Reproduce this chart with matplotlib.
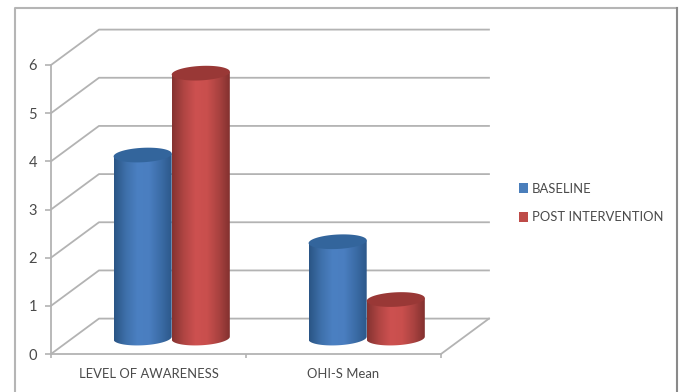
import matplotlib
matplotlib.use("Agg")
import matplotlib.pyplot as plt
import numpy as np
from matplotlib.colors import LinearSegmentedColormap
from matplotlib.lines import Line2D
from matplotlib.patches import Patch, Polygon

categories = ["LEVEL OF AWARENESS", "OHI-S Mean"]
baseline = [3.8, 2.0]
post_intervention = [5.5, 0.8]
series_names = ["BASELINE", "POST INTERVENTION"]
y_ticks = [0, 1, 2, 3, 4, 5, 6]

plt.rcParams["font.family"] = ["Lato", "DejaVu Sans"]

GRID = "#b3b3b3"
TEXT = "#4a4a4a"

# depth of the fake 3D box, in data units
DEPTH_X = 0.246
DEPTH_Y = 0.735
BAR_W = 0.298
CAP_H = 0.15
CAP_TILT = 0.2

blue_cmap = LinearSegmentedColormap.from_list(
    "blue", ["#2a5585", "#3e70aa", "#4b80c2", "#4a7ec0", "#3b6ca6", "#2b5688"])
red_cmap = LinearSegmentedColormap.from_list(
    "red", ["#853331", "#b04543", "#cd5150", "#c94f4d", "#a94240", "#7f2f2d"])

fig = plt.figure(figsize=(6.8, 3.92), dpi=100)
ax = fig.add_axes([51 / 680, 38 / 392, 390 / 680, 289 / 392])
ax.patch.set_alpha(0)

# outer chart border
for xs, ys, c in [([15, 15, 677], [392, 8, 8], "#b5b5b5"), ([677, 677], [8, 392], "#8a8a8a")]:
    fig.add_artist(Line2D(np.array(xs) / 680, 1 - np.array(ys) / 392, color=c, lw=1.5))

x_min, x_max = -0.5, 1.5

# side wall and back wall lines
for v in y_ticks:
    ax.plot([x_min, x_min + DEPTH_X, x_max + DEPTH_X], [v, v + DEPTH_Y, v + DEPTH_Y],
            color=GRID, lw=1.3, clip_on=False, zorder=1)
ax.plot([x_max, x_max + DEPTH_X], [0, DEPTH_Y], color=GRID, lw=1.3, clip_on=False, zorder=1)


def draw_cylinder(xc, value, cmap, cap_color, z):
    t = np.linspace(0, np.pi, 60)
    half = BAR_W / 2
    base_y = DEPTH_Y * 0.45
    top_y = base_y + value
    ex = half * np.cos(t)
    # lower half of the base ellipse, left to right
    low_x = xc - ex
    low_y = base_y - CAP_H * np.sin(t) + CAP_TILT * (low_x - xc)
    body = np.vstack([
        np.column_stack([low_x, low_y]),
        [[xc + half, top_y + CAP_TILT * half]],
        [[xc - half, top_y - CAP_TILT * half]],
    ])
    clip = Polygon(body, closed=True, transform=ax.transData)
    im = ax.imshow(np.linspace(0, 1, 128).reshape(1, -1), cmap=cmap, aspect="auto",
                   extent=[xc - half, xc + half, base_y - 1, top_y + 1],
                   zorder=z, clip_on=True, interpolation="bilinear")
    im.set_clip_path(clip)
    # top cap
    t2 = np.linspace(0, 2 * np.pi, 120)
    cap_x = xc + half * np.cos(t2)
    cap_y = top_y + CAP_H * np.sin(t2) + CAP_TILT * (cap_x - xc)
    ax.fill(cap_x, cap_y, color=cap_color, lw=0, zorder=z + 0.1, clip_on=False)


for i in range(len(categories)):
    center = i + DEPTH_X / 2 - 0.004
    draw_cylinder(center - BAR_W / 2, baseline[i], blue_cmap, "#33659c", 3 + i)
    draw_cylinder(center + BAR_W / 2, post_intervention[i], red_cmap, "#993836", 3.5 + i)

ax.set_xlim(x_min, x_max)
ax.set_ylim(0, 6)

for side in ["top", "right"]:
    ax.spines[side].set_visible(False)
for side in ["left", "bottom"]:
    ax.spines[side].set_color(GRID)
    ax.spines[side].set_linewidth(1.3)

ax.set_yticks(y_ticks)
ax.tick_params(axis="y", length=4, width=1.2, color=GRID, labelcolor=TEXT, labelsize=10.5, pad=6)
ax.set_xticks([-0.5, 0.5, 1.5])
ax.set_xticklabels([])
ax.set_xticks([0, 1], minor=True)
ax.set_xticklabels(categories, minor=True)
ax.tick_params(axis="x", which="major", length=3, width=1.2, color=GRID)
ax.tick_params(axis="x", which="minor", length=0, labelcolor=TEXT, labelsize=9.4, pad=10)

handles = [Patch(facecolor="#4a7ebb", label=series_names[0]),
           Patch(facecolor="#be4b48", label=series_names[1])]
fig.legend(handles=handles, loc="upper left", bbox_to_anchor=(515 / 680, 1 - 179 / 392),
           frameon=False, fontsize=9.4, labelcolor=TEXT, handlelength=0.72, handleheight=0.8,
           handletextpad=0.3, labelspacing=1.24, borderpad=0.3, borderaxespad=0)

fig.savefig("out.png", dpi=100)
